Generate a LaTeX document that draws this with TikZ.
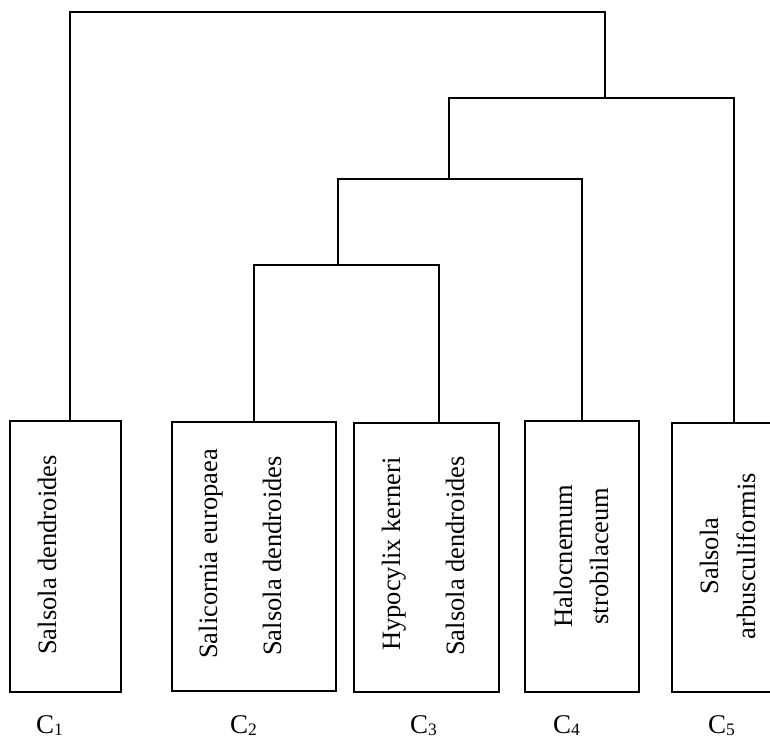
\documentclass[tikz,border=0pt]{standalone}
\usepackage{fontspec}
\setmainfont{Liberation Serif}
\newcommand{\clab}[1]{C\raisebox{-2.5pt}{\fontsize{17.5}{18}\selectfont #1}}
\begin{document}
\begin{tikzpicture}[x=1pt,y=-1pt,
  box/.style={draw,line width=1.2pt,inner sep=0pt,outer sep=0pt},
  tree/.style={line width=1.4pt},
  vtext/.style={rotate=90,anchor=base,inner sep=0pt,font=\fontsize{26.5}{32}\selectfont},
  clabel/.style={anchor=base west,inner sep=0pt,font=\fontsize{27}{32}\selectfont}]
\useasboundingbox (0,0) rectangle (770,740);
% boxes
\node[box,minimum width=111pt,minimum height=271pt] (b1) at (65.5,556.5) {};
\node[box,minimum width=164pt,minimum height=269pt] (b2) at (254,556.5) {};
\node[box,minimum width=145pt,minimum height=269pt] (b3) at (426.5,557.5) {};
\node[box,minimum width=114pt,minimum height=271pt] (b4) at (582,556.5) {};
\node[box,minimum width=124pt,minimum height=269pt] (b5) at (734,557.5) {};
% texts
\node[vtext] (t1) at (56,555) {Salsola dendroides};
\node[vtext] (t2a) at (217,554) {Salicornia europaea};
\node[vtext] (t2b) at (281,556) {Salsola dendroides};
\node[vtext] (t3a) at (400,554) {Hypocylix kerneri};
\node[vtext] (t3b) at (464,556) {Salsola dendroides};
\node[vtext] (t4a) at (572,556) {Halocnemum};
\node[vtext] (t4b) at (608,556) {strobilaceum};
\node[vtext] (t5a) at (718,556) {Salsola};
\node[vtext] (t5b) at (755,556) {arbusculiformis};
% cluster labels
\node[clabel] (c1) at (36,733) {\clab{1}};
\node[clabel] (c2) at (230,733) {\clab{2}};
\node[clabel] (c3) at (410,733) {\clab{3}};
\node[clabel] (c4) at (553,733) {\clab{4}};
\node[clabel] (c5) at (708,733) {\clab{5}};
% tree junctions
\coordinate (n4) at (338,265);
\coordinate (n3) at (449,179);
\coordinate (n2) at (605,98);
\coordinate (n1) at (605,12);
\draw[tree] (b2.north) |- (n4) -| ([xshift=12.5pt]b3.north);
\draw[tree] (n4) |- (n3) -| (b4.north);
\draw[tree] (n3) |- (n2) -| (b5.north);
\draw[tree] ([xshift=4.5pt]b1.north) |- (n1) -- (n2);
\end{tikzpicture}
\end{document}
